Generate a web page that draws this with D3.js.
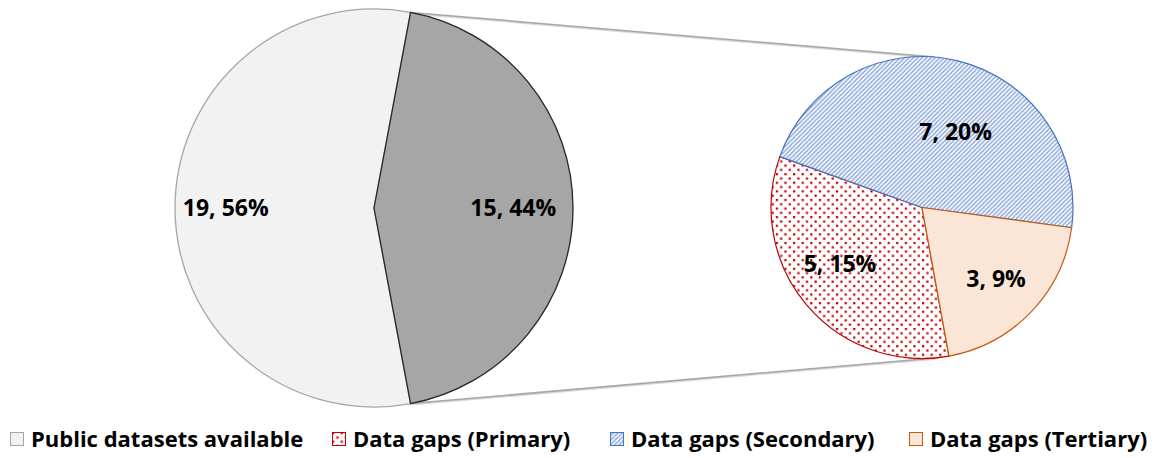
<!DOCTYPE html>
<html>
<head>
<meta charset="utf-8">
<script src="https://cdn.jsdelivr.net/npm/d3@7"></script>
<style>
  html, body { margin: 0; padding: 0; background: #fff; }
  svg { display: block; font-family: "Open Sans", Lato, sans-serif; }
</style>
</head>
<body>
<svg id="chart" width="1156" height="458"></svg>
<script>
// Main pie: datasets with public data vs. data gaps
const mainCategories = ["Public datasets available", "Data gaps"];
const mainValues = [19, 15];
const mainPercents = [56, 44];

// Breakdown of the data gaps (secondary pie)
const gapCategories = ["Data gaps (Primary)", "Data gaps (Secondary)", "Data gaps (Tertiary)"];
const gapValues = [5, 7, 3];
const gapPercents = [15, 20, 9];

// Legend entries, in display order
const legendLabels = ["Public datasets available", "Data gaps (Primary)", "Data gaps (Secondary)", "Data gaps (Tertiary)"];

const svg = d3.select("#chart");
const defs = svg.append("defs");

// Dotted fill for primary gaps
const dots = defs.append("pattern").attr("id", "dots")
  .attr("patternUnits", "userSpaceOnUse").attr("width", 8.6).attr("height", 8.6);
dots.append("rect").attr("width", 8.6).attr("height", 8.6).attr("fill", "#fff");
dots.append("rect").attr("x", 0).attr("y", 0).attr("width", 2.2).attr("height", 2.2).attr("fill", "#c00000");
dots.append("rect").attr("x", 4.3).attr("y", 4.3).attr("width", 2.2).attr("height", 2.2).attr("fill", "#c00000");

// Diagonal hatch for secondary gaps
const hatch = defs.append("pattern").attr("id", "hatch")
  .attr("patternUnits", "userSpaceOnUse").attr("width", 4.4).attr("height", 4.4);
hatch.append("rect").attr("width", 4.4).attr("height", 4.4).attr("fill", "#fff");
hatch.append("path").attr("d", "M-1.1,1.1 L1.1,-1.1 M0,4.4 L4.4,0 M3.3,5.5 L5.5,3.3")
  .attr("stroke", "#8faadc").attr("stroke-width", 1.5);

const mainStyle = [
  { fill: "#f2f2f2", stroke: "#a6a6a6" },
  { fill: "#a6a6a6", stroke: "#262626" }
];
const gapStyle = [
  { fill: "url(#dots)", stroke: "#c00000" },
  { fill: "url(#hatch)", stroke: "#4472c4" },
  { fill: "#fbe5d6", stroke: "#c55a11" }
];
const legendStyle = [mainStyle[0], gapStyle[0], gapStyle[1], gapStyle[2]];

// Geometry
const main = { cx: 374, cy: 208, r: 199 };
const sec = { cx: 922, cy: 207.5, r: 151 };

const total = d3.sum(mainValues);
const gapSpan = mainValues[1] / total * 2 * Math.PI;

// Main pie: the gap slice is centred on the right-hand side
const mainPie = d3.pie().sort(null).value(d => d)
  .startAngle(Math.PI / 2 + gapSpan / 2)
  .endAngle(Math.PI / 2 + gapSpan / 2 + 2 * Math.PI);
const mainArcs = mainPie(mainValues);
const mainArc = d3.arc().innerRadius(0).outerRadius(main.r);

// Secondary pie
const secStart = 169.7 * Math.PI / 180;
const secPie = d3.pie().sort(null).value(d => d)
  .startAngle(secStart).endAngle(secStart + 2 * Math.PI);
const secArcs = secPie(gapValues);
const secArc = d3.arc().innerRadius(0).outerRadius(sec.r);

// Connector lines: from the gap slice edges, tangent to the secondary pie
function polar(c, r, a) { return [c.cx + r * Math.sin(a), c.cy - r * Math.cos(a)]; }
function tangentPoint(p, c, upper) {
  const dx = p[0] - c.cx, dy = p[1] - c.cy;
  const d = Math.hypot(dx, dy);
  const base = Math.atan2(dy, dx);
  const off = Math.acos(c.r / d);
  const a = upper ? base + off : base - off;
  return [c.cx + c.r * Math.cos(a), c.cy + c.r * Math.sin(a)];
}
const topStart = polar(main, main.r, mainArcs[1].startAngle);
const botStart = polar(main, main.r, mainArcs[1].endAngle);
const topEnd = tangentPoint(topStart, sec, true);
const botEnd = tangentPoint(botStart, sec, false);

const connectors = svg.append("g");
[[topStart, topEnd], [botStart, botEnd]].forEach(seg => {
  connectors.append("line")
    .attr("x1", seg[0][0]).attr("y1", seg[0][1] + 1)
    .attr("x2", seg[1][0]).attr("y2", seg[1][1] + 1)
    .attr("stroke", "#d9d9d9").attr("stroke-width", 2);
  connectors.append("line")
    .attr("x1", seg[0][0]).attr("y1", seg[0][1])
    .attr("x2", seg[1][0]).attr("y2", seg[1][1])
    .attr("stroke", "#a6a6a6").attr("stroke-width", 1.5);
});

// Draw main pie
const gMain = svg.append("g").attr("transform", `translate(${main.cx},${main.cy})`);
gMain.selectAll("path").data(mainArcs).join("path")
  .attr("d", mainArc)
  .attr("fill", (d, i) => mainStyle[i].fill)
  .attr("stroke", (d, i) => mainStyle[i].stroke)
  .attr("stroke-width", 1.3)
  .attr("stroke-linejoin", "round");

// Draw secondary pie
const gSec = svg.append("g").attr("transform", `translate(${sec.cx},${sec.cy})`);
gSec.selectAll("path").data(secArcs).join("path")
  .attr("d", secArc)
  .attr("fill", (d, i) => gapStyle[i].fill)
  .attr("stroke", (d, i) => gapStyle[i].stroke)
  .attr("stroke-width", 1.2)
  .attr("stroke-linejoin", "round");

// Data labels
const labelFont = 23;
const mainLabelNudge = [[-5, 0], [-4, 0]];
const mainLabelArc = d3.arc().innerRadius(main.r * 0.72).outerRadius(main.r * 0.72);
gMain.selectAll("text").data(mainArcs).join("text")
  .attr("transform", (d, i) => {
    const c = mainLabelArc.centroid(d);
    return `translate(${c[0] + mainLabelNudge[i][0]},${c[1] + mainLabelNudge[i][1]})`;
  })
  .attr("text-anchor", "middle").attr("dy", "0.36em")
  .attr("font-size", labelFont).attr("font-weight", "bold").attr("fill", "#000")
  .text((d, i) => `${mainValues[i]}, ${mainPercents[i]}%`);

const secLabelNudge = [[-6, -8], [10, 21], [2, 2.5]];
const secLabelArc = d3.arc().innerRadius(sec.r * 0.66).outerRadius(sec.r * 0.66);
gSec.selectAll("text").data(secArcs).join("text")
  .attr("transform", (d, i) => {
    const c = secLabelArc.centroid(d);
    return `translate(${c[0] + secLabelNudge[i][0]},${c[1] + secLabelNudge[i][1]})`;
  })
  .attr("text-anchor", "middle").attr("dy", "0.36em")
  .attr("font-size", labelFont).attr("font-weight", "bold").attr("fill", "#000")
  .text((d, i) => `${gapValues[i]}, ${gapPercents[i]}%`);

// Legend
const legendX = [10, 332, 610, 909];
const legend = svg.append("g").attr("transform", "translate(0,432)");
legendLabels.forEach((lab, i) => {
  const g = legend.append("g").attr("transform", `translate(${legendX[i]},0)`);
  g.append("rect").attr("x", 0.5).attr("y", 0.5).attr("width", 13).attr("height", 13)
    .attr("fill", legendStyle[i].fill).attr("stroke", legendStyle[i].stroke).attr("stroke-width", 1);
  g.append("text").attr("x", 21).attr("y", 7.5).attr("dy", "0.36em")
    .attr("font-size", 22).attr("font-weight", "bold").attr("fill", "#000")
    .text(lab);
});
</script>
</body>
</html>
